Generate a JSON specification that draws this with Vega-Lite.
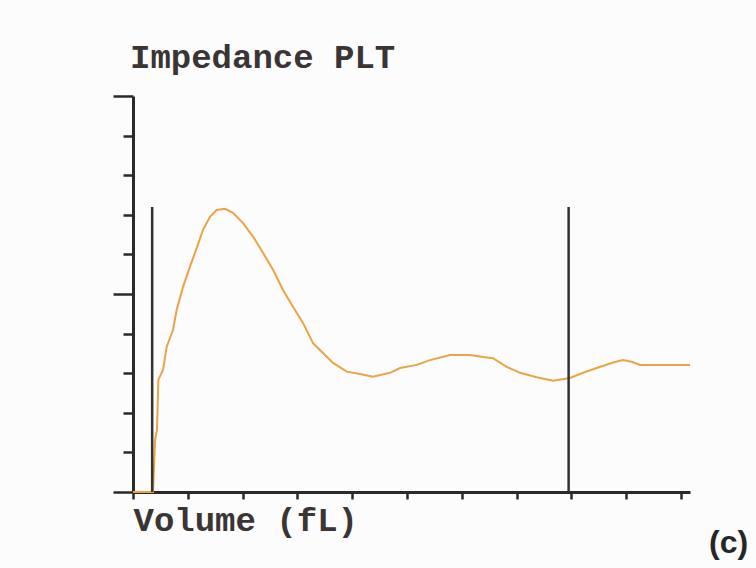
{
  "$schema": "https://vega.github.io/schema/vega-lite/v6.json",
  "width": 557,
  "height": 396,
  "autosize": {"type": "none"},
  "padding": {"left": 133, "top": 96, "right": 66, "bottom": 76},
  "background": "#fcfcfc",
  "title": {
    "text": "Impedance PLT",
    "anchor": "start",
    "frame": "group",
    "font": "Liberation Mono",
    "fontSize": 34,
    "fontWeight": "bold",
    "color": "#3a3434",
    "baseline": "alphabetic",
    "offset": -7,
    "dx": -3
  },
  "config": {
    "view": {"stroke": null},
    "axis": {"grid": false, "labels": false}
  },
  "datasets": {
    "curve": [
      {"v": 0, "n": 0}, {"v": 1.46, "n": 0}, {"v": 1.61, "n": 1.31}, {"v": 1.75, "n": 1.57},
      {"v": 1.85, "n": 2.83}, {"v": 2.19, "n": 3.08}, {"v": 2.46, "n": 3.67}, {"v": 2.92, "n": 4.09},
      {"v": 3.19, "n": 4.6}, {"v": 3.65, "n": 5.18}, {"v": 4.16, "n": 5.69}, {"v": 4.65, "n": 6.16},
      {"v": 5.11, "n": 6.62}, {"v": 5.62, "n": 6.95}, {"v": 6.11, "n": 7.12}, {"v": 6.72, "n": 7.15},
      {"v": 7.3, "n": 7.05}, {"v": 8.03, "n": 6.79}, {"v": 8.76, "n": 6.45}, {"v": 9.49, "n": 6.04},
      {"v": 10.22, "n": 5.61}, {"v": 10.95, "n": 5.1}, {"v": 11.68, "n": 4.68}, {"v": 12.41, "n": 4.27},
      {"v": 13.14, "n": 3.76}, {"v": 13.87, "n": 3.51}, {"v": 14.6, "n": 3.26}, {"v": 15.6, "n": 3.04},
      {"v": 16.57, "n": 2.98}, {"v": 17.52, "n": 2.91}, {"v": 18.76, "n": 3.01}, {"v": 19.49, "n": 3.13},
      {"v": 20.71, "n": 3.21}, {"v": 21.68, "n": 3.33}, {"v": 23.14, "n": 3.46}, {"v": 24.6, "n": 3.46},
      {"v": 25.55, "n": 3.41}, {"v": 26.28, "n": 3.38}, {"v": 27.28, "n": 3.16}, {"v": 28.25, "n": 3.01},
      {"v": 29.47, "n": 2.9}, {"v": 30.66, "n": 2.81}, {"v": 31.9, "n": 2.88}, {"v": 32.85, "n": 3.01},
      {"v": 33.85, "n": 3.13}, {"v": 35.04, "n": 3.27}, {"v": 35.77, "n": 3.33}, {"v": 36.4, "n": 3.29},
      {"v": 37.01, "n": 3.21}, {"v": 38.96, "n": 3.21}, {"v": 40.66, "n": 3.21}
    ],
    "discriminators": [
      {"v": 1.4, "n": 7.2},
      {"v": 31.8, "n": 7.2}
    ],
    "tag": [
      {"v": 44.9, "n": -1.55, "label": "(c)"}
    ]
  },
  "encoding": {
    "x": {
      "field": "v", "type": "quantitative",
      "scale": {"domain": [0, 40.66], "nice": false, "zero": false},
      "axis": {
        "title": "Volume (fL)",
        "values": [0, 4, 8, 12, 16, 20, 24, 28, 32, 36, 40],
        "domainColor": "#2a2a2a", "domainWidth": 3,
        "tickColor": "#2a2a2a", "tickWidth": 2.5, "tickSize": 7,
        "titleFont": "Liberation Mono", "titleFontSize": 34, "titleFontWeight": "bold",
        "titleColor": "#3a3434", "titleAnchor": "start", "titleAlign": "left",
        "titleBaseline": "alphabetic", "titleX": 0, "titleY": 38
      }
    },
    "y": {
      "field": "n", "type": "quantitative",
      "scale": {"domain": [0, 10], "nice": false},
      "axis": {
        "title": null,
        "values": [0, 1, 2, 3, 4, 5, 6, 7, 8, 9, 10],
        "domainColor": "#2a2a2a", "domainWidth": 3,
        "tickColor": "#2a2a2a", "tickWidth": 2.5,
        "tickSize": {"condition": {"test": "datum.value % 5 === 0", "value": 20}, "value": 10}
      }
    }
  },
  "layer": [
    {
      "data": {"name": "curve"},
      "mark": {"type": "line", "color": "#e9a445", "strokeWidth": 2, "clip": false}
    },
    {
      "data": {"name": "discriminators"},
      "mark": {"type": "rule", "color": "#333333", "strokeWidth": 2.5},
      "encoding": {
        "y2": {"datum": 0}
      }
    },
    {
      "data": {"name": "tag"},
      "mark": {"type": "text", "font": "Liberation Sans Narrow, Liberation Sans", "fontSize": 32, "fontWeight": "bold", "color": "#262626", "align": "right", "baseline": "alphabetic"},
      "encoding": {
        "text": {"field": "label"}
      }
    }
  ]
}
